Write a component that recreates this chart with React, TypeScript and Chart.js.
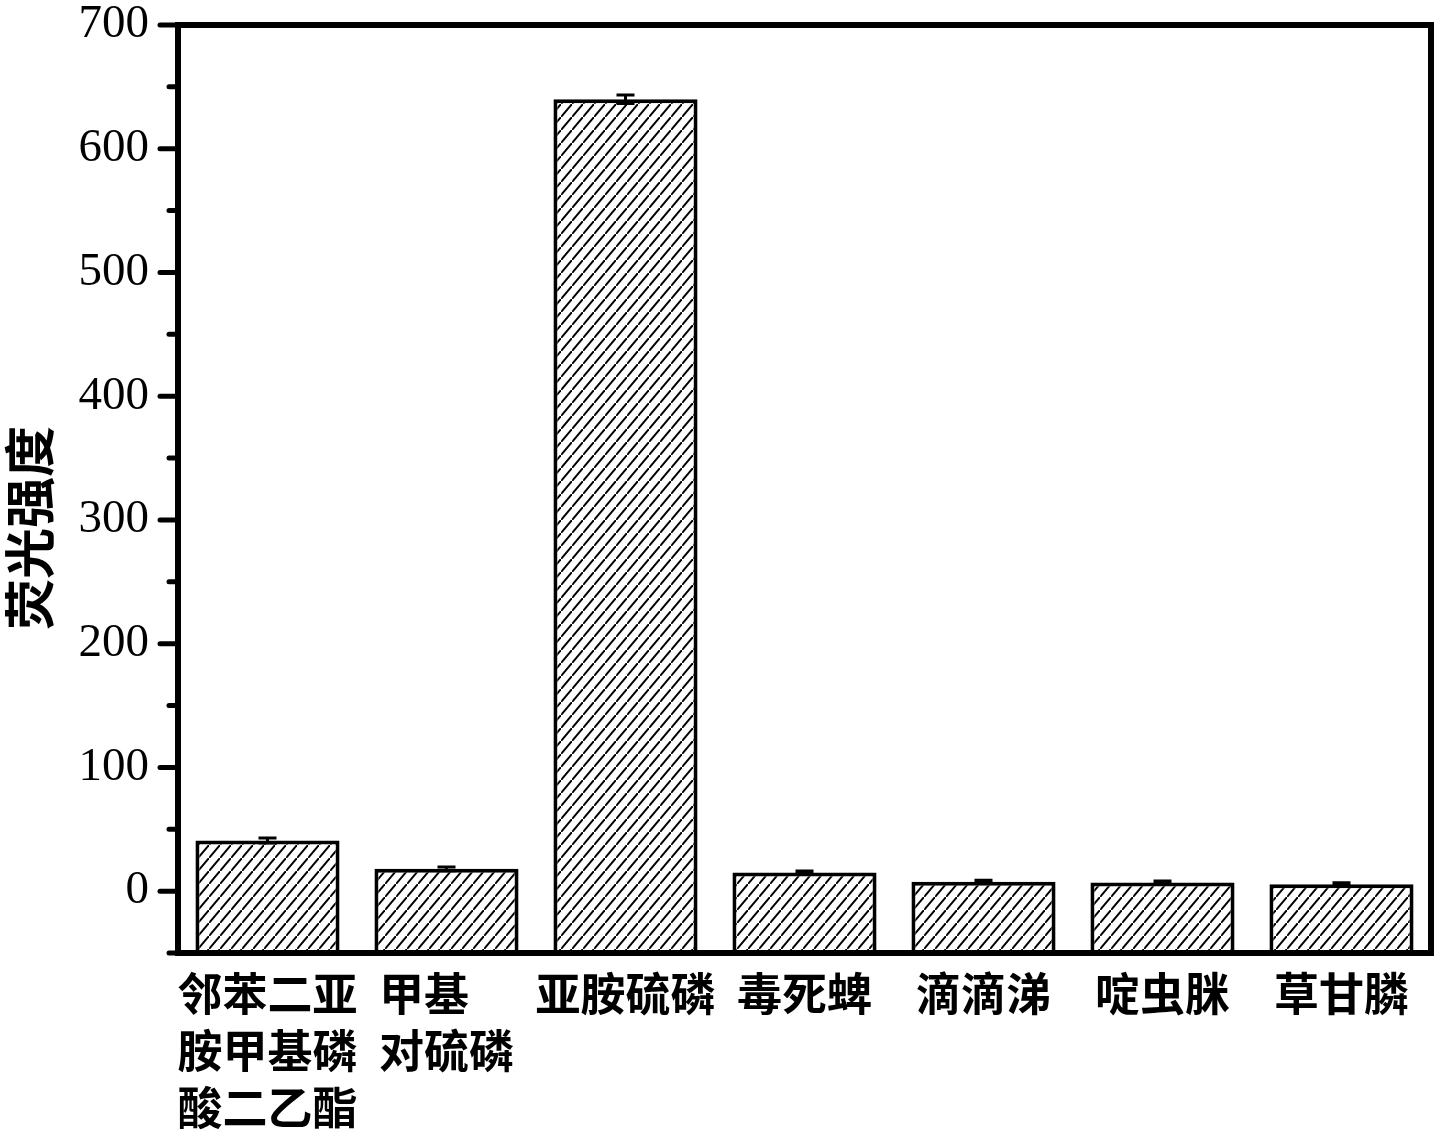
import React, { useEffect, useRef } from "react";
import { Chart, registerables } from "chart.js";

Chart.register(...registerables);

const categories: (string | string[])[] = [
  ["邻苯二亚", "胺甲基磷", "酸二乙酯"],
  ["甲基　", "对硫磷"],
  "亚胺硫磷",
  "毒死蜱",
  "滴滴涕",
  "啶虫脒",
  "草甘膦",
];
const intensity = [41, 18, 640, 15, 7.5, 7, 5.5];
const errors = [2, 1.5, 3.5, 1.2, 1.2, 1.2, 1.2];
const yMin = -50;
const yMax = 700;
const majorTicks = [0, 100, 200, 300, 400, 500, 600, 700];
const minorTicks = [-50, 50, 150, 250, 350, 450, 550, 650];
const yTitle = "荧光强度";

function makeHatch(): CanvasPattern | string {
  const w = 11;
  const h = 13;
  const c = document.createElement("canvas");
  c.width = w;
  c.height = h;
  const g = c.getContext("2d");
  if (!g) return "#fff";
  g.fillStyle = "#fff";
  g.fillRect(0, 0, w, h);
  g.strokeStyle = "#000";
  g.lineWidth = 2;
  g.beginPath();
  g.moveTo(-w, 2 * h);
  g.lineTo(2 * w, -h);
  g.stroke();
  const p = g.createPattern(c, "repeat");
  return p || "#fff";
}

const framePlugin = {
  id: "framePlugin",
  afterDatasetsDraw(chart: any) {
    const ctx = chart.ctx;
    const y = chart.scales.y;
    const meta = chart.getDatasetMeta(0);
    ctx.save();
    ctx.strokeStyle = "#000";
    ctx.lineWidth = 3;
    meta.data.forEach((bar: any, i: number) => {
      const v = intensity[i];
      const e = errors[i];
      const yTop = y.getPixelForValue(v + e);
      const yBot = y.getPixelForValue(v - e);
      ctx.beginPath();
      ctx.moveTo(bar.x, yTop);
      ctx.lineTo(bar.x, yBot);
      ctx.moveTo(bar.x - 9, yTop);
      ctx.lineTo(bar.x + 9, yTop);
      ctx.moveTo(bar.x - 9, yBot);
      ctx.lineTo(bar.x + 9, yBot);
      ctx.stroke();
    });
    ctx.restore();
  },
  afterDraw(chart: any) {
    const ctx = chart.ctx;
    const a = chart.chartArea;
    const y = chart.scales.y;
    ctx.save();
    ctx.strokeStyle = "#000";
    ctx.lineWidth = 6;
    ctx.strokeRect(a.left, a.top, a.right - a.left, a.bottom - a.top);
    ctx.lineWidth = 5;
    ctx.lineCap = "round";
    majorTicks.forEach((t) => {
      const py = y.getPixelForValue(t);
      ctx.beginPath();
      ctx.moveTo(a.left - 18, py);
      ctx.lineTo(a.left, py);
      ctx.stroke();
    });
    minorTicks.forEach((t) => {
      const py = y.getPixelForValue(t);
      ctx.beginPath();
      ctx.moveTo(a.left - 9, py);
      ctx.lineTo(a.left, py);
      ctx.stroke();
    });
    ctx.lineCap = "butt";
    ctx.fillStyle = "#000";
    ctx.font = "bold 51px 'Noto Sans CJK SC', sans-serif";
    ctx.textAlign = "center";
    ctx.textBaseline = "middle";
    ctx.translate(30, 528);
    ctx.rotate(-Math.PI / 2);
    ctx.fillText(yTitle, 0, 0);
    ctx.restore();
  },
};

export default function App() {
  const ref = useRef<HTMLCanvasElement | null>(null);
  useEffect(() => {
    if (!ref.current) return;
    const hatch = makeHatch();
    const chart = new Chart(ref.current, {
      type: "bar",
      data: {
        labels: categories,
        datasets: [
          {
            data: intensity,
            base: yMin,
            backgroundColor: hatch as any,
            borderColor: "#000",
            borderWidth: 4,
            barPercentage: 0.805,
            categoryPercentage: 1,
          } as any,
        ],
      },
      options: {
        responsive: false,
        animation: false,
        layout: { padding: { left: 0, right: 5, top: 25, bottom: 0 } },
        plugins: {
          legend: { display: false },
          tooltip: { enabled: false },
        },
        scales: {
          x: {
            grid: { display: false },
            border: { display: false },
            ticks: {
              color: "#000",
              maxRotation: 0,
              minRotation: 0,
              autoSkip: false,
              padding: 4,
              font: {
                family: "'Noto Sans CJK SC', sans-serif",
                size: 45,
                weight: "bold",
                lineHeight: 1.27,
              },
            },
            afterFit: (s: any) => {
              s.height = 177;
              s.paddingLeft = 0;
              s.paddingRight = 0;
            },
          },
          y: {
            min: yMin,
            max: yMax,
            grid: { display: false },
            border: { display: false },
            ticks: {
              stepSize: 50,
              color: "#000",
              padding: 21,
              font: { family: "'Liberation Serif', 'Times New Roman', serif", size: 47, lineHeight: 1 },
              callback: (v: any) => (majorTicks.includes(Number(v)) ? String(v) : ""),
            },
            afterFit: (s: any) => {
              s.width = 178;
              s.paddingTop = 0;
              s.paddingBottom = 0;
            },
          },
        },
      },
      plugins: [framePlugin],
    });
    return () => chart.destroy();
  }, []);
  return (
    <div style={{ position: "fixed", left: 0, top: 0, width: 1436, height: 1130, background: "#fff" }}>
      <canvas ref={ref} width={1436} height={1130} />
    </div>
  );
}
